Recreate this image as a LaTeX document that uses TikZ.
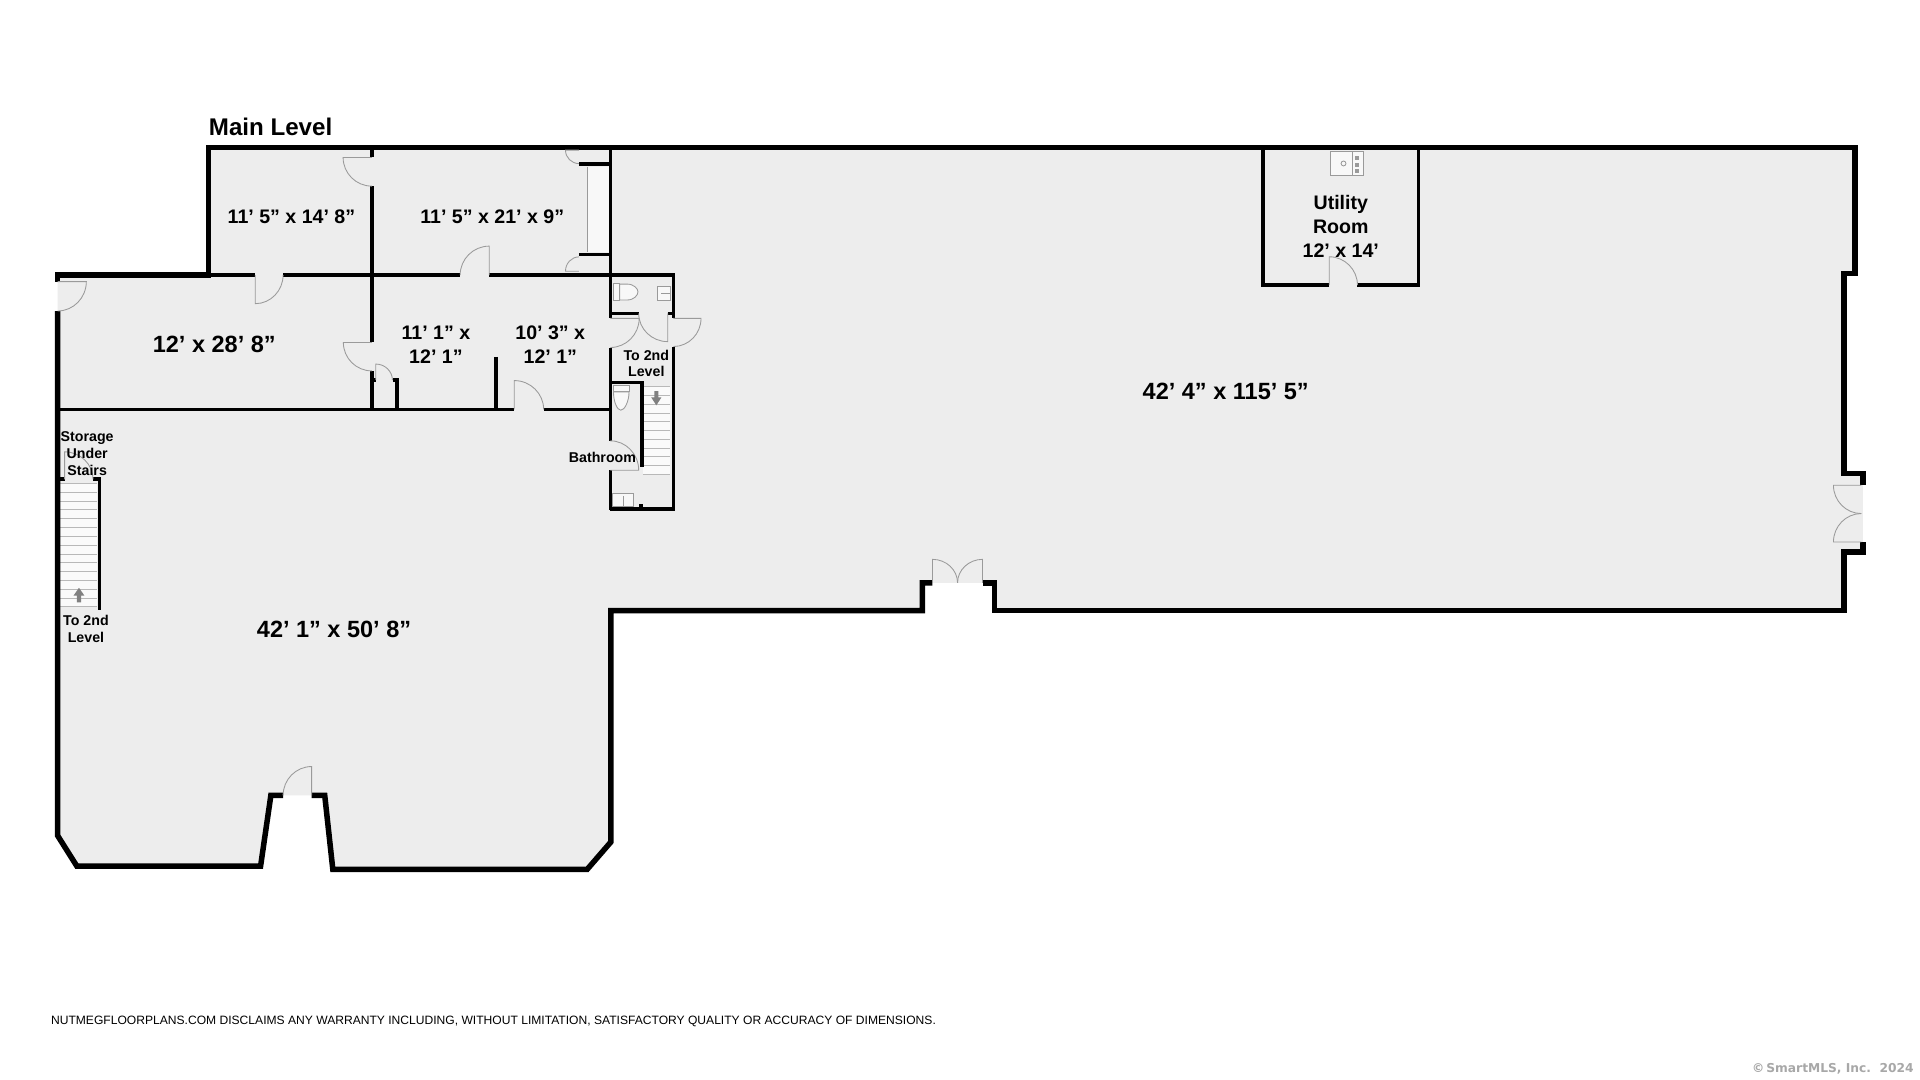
\documentclass[tikz,border=0pt]{standalone}
\usepackage{fontspec}
\setmainfont{Liberation Sans}
\newfontfamily\markfont{DejaVu Sans}
\definecolor{floorgrey}{HTML}{EDEDED}
\definecolor{fixgrey}{HTML}{9A9A9A}
\definecolor{markgrey}{HTML}{A8A8A8}

\begin{document}
\begin{tikzpicture}
[%%%%%%%%%%%%%%%%%%%%%%%%%%%%%%
x=1pt,y=-1pt,
wall/.style={draw=black,line width=4.5pt,miter limit=10},
partition/.style={draw=black,line width=3.1pt},
door/.style={draw=fixgrey,line width=0.7pt},
fixture/.style={draw=fixgrey,line width=0.7pt,fill=white!60!floorgrey},
tread/.style={draw=fixgrey!70,line width=0.7pt},
stairarrow/.style={fill=gray,draw=none},
room/.style={font=\bfseries\fontsize{16}{19.6}\selectfont,align=center,inner sep=0pt},
bigroomlabel/.style={font=\bfseries\fontsize{19.2}{22}\selectfont,align=center,inner sep=0pt},
smalllabel/.style={font=\bfseries\fontsize{11.6}{13.7}\selectfont,align=center,inner sep=0pt},
]%%%%%%%%%%%%%%%%%%%%%%%%%%%%%%
\useasboundingbox (0,0) rectangle (1568,882);
\fill[white] (0,0) rectangle (1568,882);
\fill[floorgrey] (47,224.6)--(170.2,224.6)--(170.2,120.5)--(1515,120.5)--(1515,223.2)--(1506,223.2)--(1506,386.7)--(1521.3,386.7)--(1521.3,450.8)--(1506,450.8)--(1506,498.7)--(812,498.7)--(812,476)--(753.3,476)--(753.3,498.7)--(498.8,498.7)--(498.8,687.7)--(479.5,710)--(271.8,710)--(265.2,649.6)--(221.2,649.6)--(212.8,707.4)--(62.8,707.4)--(47,682.3)--cycle;

\fill[white!60!floorgrey] (480,136) rectangle (497.5,205.7);
\draw[door] (480,136)--(480,205.7);

\fill[white!70!floorgrey] (525,315.9) rectangle (547.5,387.4);
\foreach \k in {0,...,10}
\draw[tread] (525,315.9+\k*7.15)--(547.5,315.9+\k*7.15);
\fill[white!70!floorgrey] (48,394.8) rectangle (79.5,495.6);
\foreach \k in {0,...,14}
\draw[tread] (48,394.8+\k*7.2)--(79.5,394.8+\k*7.2);
\fill[stairarrow] (534.3,319.5)--(537.7,319.5)--(537.7,324.5)--(540.2,324.5)--(536,331)--(531.8,324.5)--(534.3,324.5)--cycle;
\fill[stairarrow] (62.7,492)--(66.3,492)--(66.3,486.5)--(69,486.5)--(64.5,480)--(60,486.5)--(62.7,486.5)--cycle;

\draw[wall] (254.5,649.6)--(265.2,649.6)--(271.8,710)--(479.5,710)--(498.8,687.7)--(498.8,498.7)--(753.3,498.7)--(753.3,476)--(761.5,476);
\draw[wall] (802.4,476)--(812,476)--(812,498.7)--(1506,498.7)--(1506,450.8)--(1521.3,450.8)--(1521.3,442.6);
\draw[wall] (1521.3,396.3)--(1521.3,386.7)--(1506,386.7)--(1506,223.2)--(1515,223.2)--(1515,120.5)--(170.2,120.5)--(170.2,224.6)--(47,224.6)--(47,230);
\draw[wall] (47,254)--(47,682.3)--(62.8,707.4)--(212.8,707.4)--(221.2,649.6)--(231.2,649.6);

\foreach \ax/\ay/\bx/\by in {
170/224.6/208.5/224.6, 231.2/224.6/375.8/224.6, 399.5/224.6/551.6/224.6,
47/334.4/420/334.4, 444/334.4/499.8/334.4,
303.6/120.5/303.6/128.6, 303.6/152/303.6/279.7, 303.6/302.8/303.6/334.4,
498.5/120.5/498.5/260, 498.5/283.8/498.5/360, 498.5/384/498.5/416.8,
550/224.6/550/260, 550/283/550/416.8, 498/415.4/551.4/415.4,
498.5/256/521.6/256, 545.2/256/551/256,
405/291.4/405/334.4, 303.6/310.5/307/310.5,
472.8/134/498.5/134, 472.8/207.9/498.5/207.9,
523.7/411.8/523.7/415.4}
\draw[partition] (\ax,\ay)--(\bx,\by);
\draw[partition] (498.4,312.4)--(524.3,312.4)--(524.3,381.3);
\draw[partition] (320.8,310.5)--(324,310.5)--(324,334.4);
\draw[partition] (1085.5,232.9)--(1031.2,232.9)--(1031.2,120.5);
\draw[partition] (1108.6,232.9)--(1158.5,232.9)--(1158.5,120.5);
\draw[partition] (47,391.5)--(52.8,391.5);
\draw[partition] (76,391.5)--(81.2,391.5)--(81.2,498.4);

\foreach \hx/\hy/\lx/\ly/\ex/\ey in {
303.6/128.6/-23.4/0/0/23.4, 303.6/279.7/-23.2/0/0/23.2,
306.9/310.5/0/-13.2/13.6/0, 420/334.4/0/-23.6/24/0,
399.5/224.6/0/-23.6/-23.7/0, 498.4/260/23.6/0/0/23.8,
545.3/256/0/23/-23.7/0, 550/260/22.5/0/0/23,
498.4/384/23.2/0/0/-24, 208.5/224.6/0/23.4/22.7/0,
47/230/23.5/0/0/24, 254.5/649.6/0/-23.6/-23.3/0,
52.8/391.5/0/-22.5/23.2/0, 1085.5/232.9/0/-23.2/23.1/0,
761.5/476/0/-19.2/20.5/0, 802.4/476/0/-19.2/-20.4/0,
1520/396.3/-22.7/0/0/23.1, 1520/442.6/-22.7/0/0/-23.2,
472.8/122.6/-11/0/0/11, 472.8/221.5/-11/0/0/-11.7}
\draw[door,shift={(\hx,\hy)}] (0,0)--(\lx,\ly) .. controls ({\lx+.55*\ex},{\ly+.55*\ey}) and ({\ex+.55*\lx},{\ey+.55*\ly}) .. (\ex,\ey);

\draw[fixture] (500.6,231.4) rectangle (506,245);
\draw[fixture] (506,232)--(512,232) .. controls (518,232) and (521,236) .. (521,238.3) .. controls (521,241) and (518,245) .. (512,245)--(506,245)--cycle;
\draw[fixture] (537,233.6) rectangle (547.5,245.6);
\draw[door] (540,239.6)--(547,239.6);
\draw[fixture] (501,314.6) rectangle (513.7,320);
\draw[fixture] (501,320) .. controls (501,328) and (504,335) .. (507,335) .. controls (510,335) and (513.7,328) .. (513.7,320)--cycle;
\draw[fixture] (500.3,402.6) rectangle (517.5,413.4);
\draw[door] (508.8,405)--(508.8,413.4);
\draw[fixture] (1086.8,124) rectangle (1113.5,143);
\draw[door] (1104.5,124)--(1104.5,143);
\draw[door] (1097.2,133.5) circle (2pt);
\fill[fixgrey] (1106.5,127.5) rectangle (1109.5,131);
\fill[fixgrey] (1106.5,133) rectangle (1109.5,136.5);
\fill[fixgrey] (1106.5,138) rectangle (1109.5,141);

\node[font=\bfseries\fontsize{19.7}{22}\selectfont,inner sep=0pt] (mainlevel) at (221,104) {Main Level};
\node[room] (office) at (238,177) {11’ 5” x 14’ 8”};
\node[room] (longroom) at (402,177) {11’ 5” x 21’ x 9”};
\node[bigroomlabel] (sideroom) at (175,281) {12’ x 28’ 8”};
\node[room] (midroom) at (356,281.8) {11’ 1” x\\12’ 1”};
\node[room] (endroom) at (449.4,281.8) {10’ 3” x\\12’ 1”};
\node[room] (utility) at (1095,185) {Utility\\Room\\12’ x 14’};
\node[bigroomlabel] (bigroom) at (1001,320) {42’ 4” x 115’ 5”};
\node[bigroomlabel] (frontroom) at (272.8,514) {42’ 1” x 50’ 8”};
\node[smalllabel] (upnorth) at (527.8,296.8) {To 2nd\\Level};
\node[smalllabel] (bath) at (492,373.7) {Bathroom};
\node[smalllabel] (understairs) at (71.2,370.3) {Storage\\Under\\Stairs};
\node[smalllabel] (upwest) at (70.2,513.9) {To 2nd\\Level};
\node[font=\fontsize{9.87}{12}\selectfont,anchor=west,inner sep=0pt] (disclaimer) at (41.5,834.5) {NUTMEGFLOORPLANS.COM DISCLAIMS ANY WARRANTY INCLUDING, WITHOUT LIMITATION, SATISFACTORY QUALITY OR ACCURACY OF DIMENSIONS.};
\node[font=\markfont\bfseries\fontsize{10}{12}\selectfont,text=markgrey,anchor=east,inner sep=0pt] (copymark) at (1563,872.5) {©\,SmartMLS, Inc.\ \ 2024};
\end{tikzpicture}
\end{document}
